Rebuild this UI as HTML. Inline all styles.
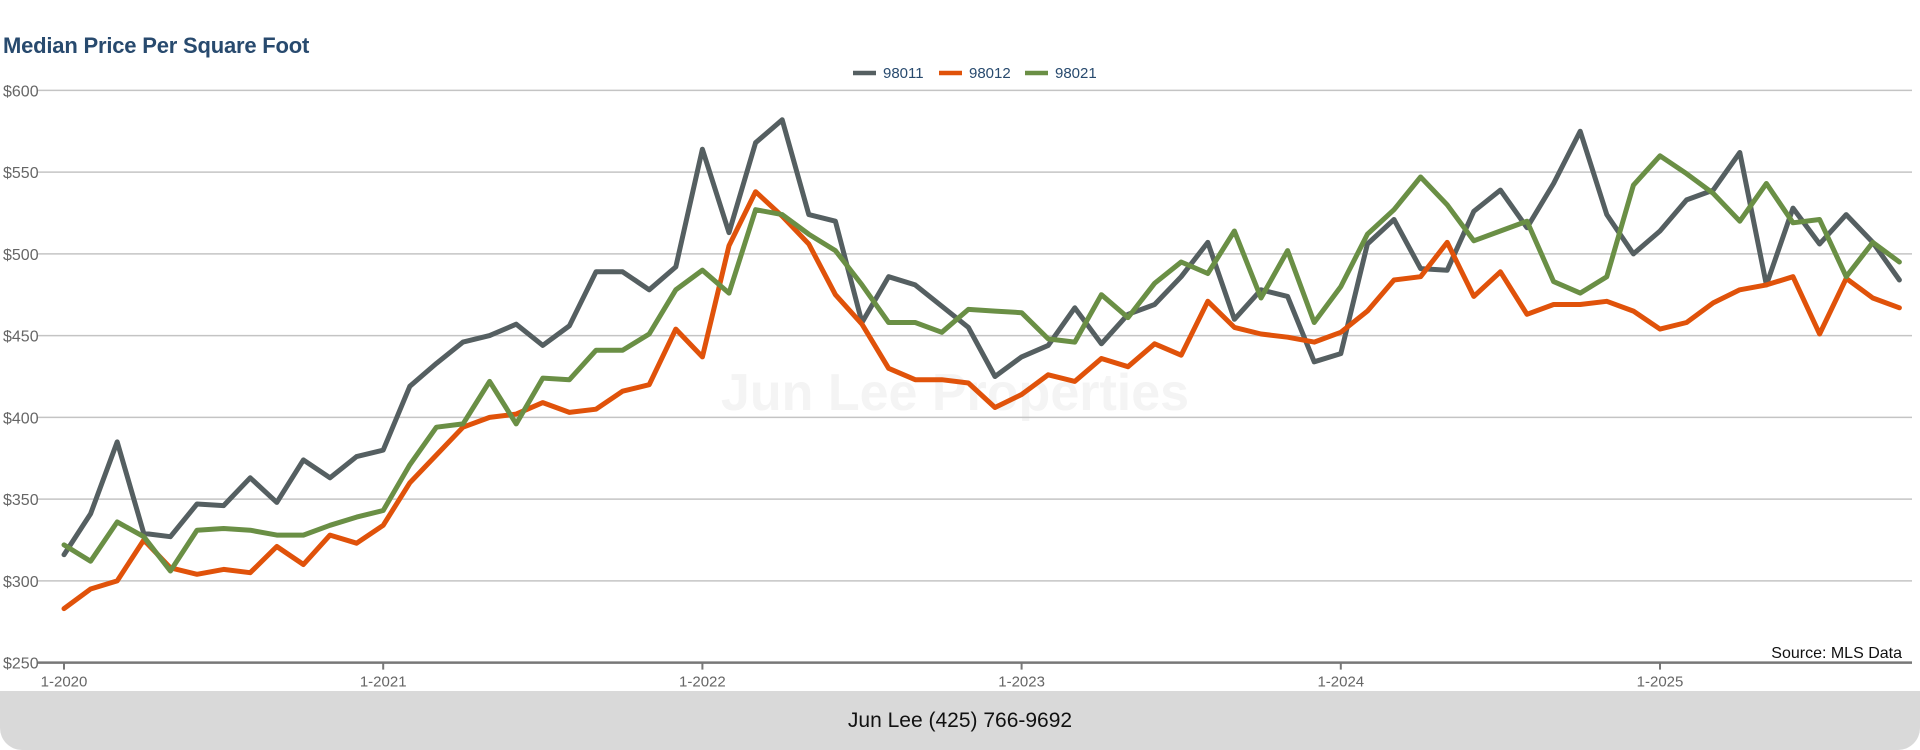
<!DOCTYPE html>
<html><head><meta charset="utf-8">
<style>
html,body{margin:0;padding:0;background:#fff;}
body{width:1920px;height:750px;position:relative;overflow:hidden;font-family:"Liberation Sans",Arial,sans-serif;}
#title{position:absolute;left:3px;top:33px;font-size:22px;font-weight:bold;color:#284a6e;white-space:nowrap;letter-spacing:-0.2px;}
#footer{position:absolute;left:0;top:691px;width:1920px;height:59px;background:#d9d9d9;border-radius:0 0 22px 22px;text-align:center;font-size:21px;line-height:59px;color:#111;}
svg{position:absolute;left:0;top:0;}
</style></head>
<body>
<div id="title">Median Price Per Square Foot</div>
<svg id="chart" width="1920" height="750"></svg>
<div id="footer">Jun Lee (425) 766-9692</div>
<script>
const seriesNames = ["98011","98012","98021"];
const seriesColors = ["#555f61","#e0520a","#6a8f45"];
const yTicks = [250,300,350,400,450,500,550,600];
const xTickLabels = ["1-2020","1-2021","1-2022","1-2023","1-2024","1-2025"];
const xTickIndex = [0,12,24,36,48,60];
const s98011 = [316,341,385,329,327,347,346,363,348,374,363,376,380,419,433,446,450,457,444,456,489,489,478,492,564,513,568,582,524,520,458,486,481,468,455,425,437,444,467,445,463,469,486,507,460,478,474,434,439,506,521,491,490,526,539,516,543,575,524,500,514,533,539,562,481,528,506,524,507,484];
const s98012 = [283,295,300,325,308,304,307,305,321,310,328,323,334,360,377,394,400,402,409,403,405,416,420,454,437,505,538,523,506,475,457,430,423,423,421,406,414,426,422,436,431,445,438,471,455,451,449,446,452,465,484,486,507,474,489,463,469,469,471,465,454,458,470,478,481,486,451,485,473,467];
const s98021 = [322,312,336,327,306,331,332,331,328,328,334,339,343,371,394,396,422,396,424,423,441,441,451,478,490,476,527,524,512,502,481,458,458,452,466,465,464,448,446,475,461,482,495,488,514,473,502,458,480,512,527,547,530,508,514,520,483,476,486,542,560,549,537,520,543,519,521,486,507,495];
const allSeries = [s98011,s98012,s98021];

const NS="http://www.w3.org/2000/svg";
const svg=document.getElementById('chart');
const X0=64, DX=26.6, Y0=662.6, PXV=1.635, GL=38, GR=1912;
function xPos(i){return X0+DX*i;}
function yPos(v){return Y0-(v-250)*PXV;}
function mk(tag,attrs){const e=document.createElementNS(NS,tag);for(const k in attrs)e.setAttribute(k,attrs[k]);svg.appendChild(e);return e;}

let wm=mk('text',{x:955,y:410,'text-anchor':'middle','font-size':52,'font-weight':'bold',fill:'#f4f4f4','font-family':'Liberation Sans, sans-serif'});
wm.textContent='Jun Lee Properties';



yTicks.forEach(v=>{
  if(v>250){
    const g=mk('line',{x1:GL,x2:GR,y1:yPos(v),y2:yPos(v),stroke:'#c4c4c4','stroke-width':1.5});
    
    
  }
  const t=mk('text',{x:3,y:yPos(v)+6,'font-size':16,fill:'#666','font-family':'Liberation Sans, sans-serif'});
  t.textContent='$'+v;
  
  
});
const ax=mk('line',{x1:GL,x2:GR,y1:Y0,y2:Y0,stroke:'#777','stroke-width':2.5});


xTickIndex.forEach((idx,k)=>{
  const tk=mk('line',{x1:xPos(idx),x2:xPos(idx),y1:Y0,y2:Y0+7,stroke:'#777','stroke-width':2});
  
  
  const t=mk('text',{x:xPos(idx),y:Y0+24,'text-anchor':'middle','font-size':15,fill:'#666','font-family':'Liberation Sans, sans-serif'});
  t.textContent=xTickLabels[k];
  
  
});
const src=mk('text',{x:1902,y:658,'text-anchor':'end','font-size':16,fill:'#111','font-family':'Liberation Sans, sans-serif'});
src.textContent='Source: MLS Data';



allSeries.forEach((s,si)=>{
  const pts=s.map((v,i)=>xPos(i).toFixed(1)+','+yPos(v).toFixed(1)).join(' ');
  const p=mk('polyline',{points:pts,fill:'none',stroke:seriesColors[si],'stroke-width':5,'stroke-linejoin':'round','stroke-linecap':'round'});
  
  
});

const legX=[853,939,1025];
seriesNames.forEach((n,si)=>{
  const l=mk('line',{x1:legX[si],x2:legX[si]+23,y1:73,y2:73,stroke:seriesColors[si],'stroke-width':4.5});
  
  
  const t=mk('text',{x:legX[si]+30,y:78,'font-size':15,fill:'#284a6e','font-family':'Liberation Sans, sans-serif'});
  t.textContent=n;
  
  
});
</script>
</body></html>
